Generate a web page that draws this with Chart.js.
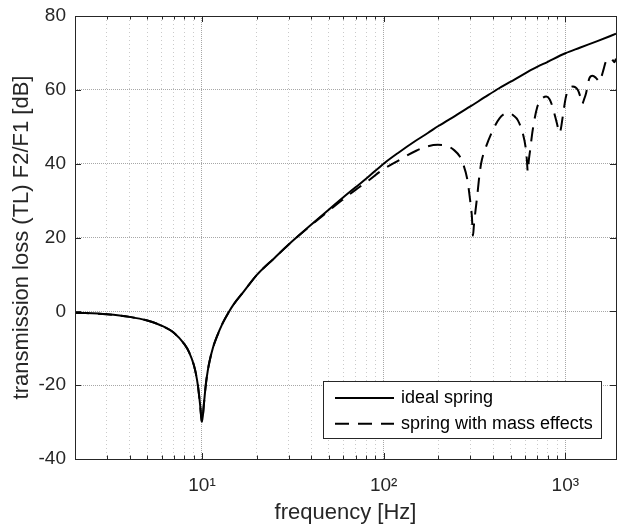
<!DOCTYPE html>
<html><head><meta charset="utf-8">
<script src="https://cdn.jsdelivr.net/npm/chart.js@4.4.1/dist/chart.umd.min.js"></script>
<style>html,body{margin:0;padding:0;background:#fff;}canvas{display:block;}</style>
</head><body>
<canvas id="c" width="617" height="526"></canvas>
<script>
// ---- data ----
const freqIdeal = [2,3,4,5,6,7,8,8.5,9,9.25,9.5,9.75,10,10.25,10.5,10.75,11,11.5,12,13,14,15,17,20,25,30,40,50,60,70,80,100,120,150,175,200,250,300,360,434,530,661,800,1000,1200,1500,1900];
const tlIdeal = [-0.35,-0.8,-1.5,-2.5,-3.9,-5.8,-8.9,-11.1,-14.4,-16.8,-20.2,-25,-30,-25,-19.8,-16.2,-13.6,-9.8,-7.2,-3.2,-0.3,2.0,5.4,9.8,14.4,18.1,23.5,27.6,30.9,33.6,35.9,40.0,42.9,46.2,48.3,50.2,53.1,55.5,58.0,60.5,62.9,65.6,67.6,69.9,71.4,73.2,75.2];
const freqMass = [2,3,4,5,6,7,8,8.5,9,9.25,9.5,9.75,10,10.25,10.5,10.75,11,11.5,12,13,14,15,17,20,25,30,40,50,60,70,84,97,122,151,175,199,221,245,262,273,289,299,306,310,314,319,327,336,344,366,399,434,470,492,520,547,583,607,615,621,628,640,661,701,740,785,820,850,899,930,945,967,1008,1050,1100,1170,1215,1240,1265,1300,1355,1410,1470,1520,1545,1570,1620,1670,1720,1780,1830,1860,1900];
const tlMass = [-0.35,-0.8,-1.5,-2.5,-3.9,-5.8,-8.9,-11.1,-14.4,-16.8,-20.2,-25,-30,-25,-19.8,-16.2,-13.6,-9.8,-7.2,-3.2,-0.3,2.0,5.4,9.8,14.4,18.1,23.4,27.3,30.4,32.9,35.7,38.1,41.0,43.5,44.7,45.1,44.9,43.6,42.0,40.1,35.6,30.2,25.6,20.5,23.5,26.6,31.1,36.5,40.1,44.6,49.1,52.3,53.6,53.7,53.0,51.8,48.2,43.7,40.5,37.8,40.5,43.7,49.1,55.4,57.5,58.2,57.4,55.4,50.9,48.3,49.5,52.7,58.2,60.3,60.9,60.0,57.8,56.2,57.3,59.1,63.1,63.8,63.3,62.5,62.2,63.1,65.4,67.6,68.0,68.6,67.9,67.5,68.4];
const seriesLabels = ['ideal spring', 'spring with mass effects'];
const xMajorTicks = [10, 100, 1000];
const xMajorLabels = ['10\u00B9', '10\u00B2', '10\u00B3'];
const yTickStep = 20;
const xRange = [2, 1900];
const yRange = [-40, 80];
const xTitle = 'frequency [Hz]';
const yTitle = 'transmission loss (TL) F2/F1 [dB]';

// ---- tick positions for the log axis (1..9 per decade) ----
const xTickValues = [];
for (const dec of [1, 10, 100, 1000]) {
  for (let m = 1; m <= 9; m++) {
    const v = m * dec;
    if (v >= xRange[0] && v <= xRange[1]) xTickValues.push(v);
  }
}
if (xTickValues[xTickValues.length - 1] !== xRange[1]) xTickValues.push(xRange[1]);

const FONT = '"Liberation Sans", Arial, Helvetica, sans-serif';
const TXT = '#262626';
const MAJOR_GRID = 'rgba(60,60,60,0.45)';
const MINOR_GRID = 'rgba(80,80,80,0.30)';

const toXY = (xs, ys) => xs.map((x, i) => ({x: x, y: ys[i]}));

const boxPlugin = {
  id: 'boxTicks',
  afterDraw(chart) {
    const {ctx, chartArea: a} = chart;
    const xs = chart.scales.x, ys = chart.scales.y;
    ctx.save();
    ctx.strokeStyle = TXT;
    ctx.lineWidth = 1;
    ctx.setLineDash([]);
    ctx.beginPath();
    xs.ticks.forEach(t => {
      if (t.value <= xRange[0] || t.value >= xRange[1]) return;
      const px = Math.round(xs.getPixelForValue(t.value)) + 0.5;
      const L = t.major ? 6 : 3.5;
      ctx.moveTo(px, a.bottom); ctx.lineTo(px, a.bottom - L);
      ctx.moveTo(px, a.top); ctx.lineTo(px, a.top + L);
    });
    ys.ticks.forEach(t => {
      const py = Math.round(ys.getPixelForValue(t.value)) + 0.5;
      ctx.moveTo(a.left, py); ctx.lineTo(a.left + 6, py);
      ctx.moveTo(a.right, py); ctx.lineTo(a.right - 6, py);
    });
    ctx.stroke();
    ctx.strokeRect(Math.round(a.left) + 0.5, Math.round(a.top) + 0.5,
      Math.round(a.right) - Math.round(a.left), Math.round(a.bottom) - Math.round(a.top));

    // legend box inside the plot, lower right
    const w = 278, h = 57;
    const x0 = Math.round(a.right - 15 - w), y0 = Math.round(a.bottom - 21 - h);
    ctx.fillStyle = '#fff';
    ctx.fillRect(x0, y0, w, h);
    ctx.strokeStyle = TXT;
    ctx.strokeRect(x0 + 0.5, y0 + 0.5, w, h);
    chart.data.datasets.forEach((ds, i) => {
      const yy = y0 + 17 + i * 25.7;
      ctx.beginPath();
      ctx.setLineDash(ds.borderDash || []);
      ctx.lineWidth = ds.borderWidth;
      ctx.strokeStyle = ds.borderColor;
      ctx.moveTo(x0 + 12, yy); ctx.lineTo(x0 + 71, yy);
      ctx.stroke();
      ctx.setLineDash([]);
      ctx.fillStyle = '#000';
      ctx.font = '18px ' + FONT;
      ctx.textBaseline = 'middle';
      ctx.textAlign = 'left';
      ctx.fillText(ds.label, x0 + 78, yy);
    });
    ctx.restore();
  }
};

new Chart(document.getElementById('c'), {
  type: 'line',
  data: {
    datasets: [
      {label: seriesLabels[0], data: toXY(freqIdeal, tlIdeal), borderColor: '#000', borderWidth: 2,
       pointRadius: 0, fill: false, cubicInterpolationMode: 'monotone'},
      {label: seriesLabels[1], data: toXY(freqMass, tlMass), borderColor: '#000', borderWidth: 2,
       borderDash: [14, 9], pointRadius: 0, fill: false, cubicInterpolationMode: 'monotone'}
    ]
  },
  options: {
    responsive: false,
    animation: false,
    devicePixelRatio: 1,
    layout: {padding: {top: 16, right: 1, left: 0, bottom: 0}},
    plugins: {legend: {display: false}, tooltip: {enabled: false}},
    scales: {
      x: {
        type: 'logarithmic',
        min: xRange[0], max: xRange[1],
        afterBuildTicks: (scale) => {
          scale.ticks = xTickValues.map(v => ({value: v, major: xMajorTicks.includes(v)}));
        },
        afterFit: (scale) => { scale.height = 67; scale.paddingLeft = 0; scale.paddingRight = 0; },
        ticks: {
          autoSkip: false, maxRotation: 0, minRotation: 0, padding: 15,
          color: TXT, font: {family: FONT, size: 19},
          callback: (value) => {
            const i = xMajorTicks.indexOf(value);
            return i >= 0 ? xMajorLabels[i] : '';
          }
        },
        grid: {
          drawTicks: false,
          lineWidth: 1,
          color: (c) => (c.tick && c.tick.major) ? MAJOR_GRID : MINOR_GRID
        },
        border: {
          display: false,
          dash: (c) => (c.tick && c.tick.major) ? [1, 1] : [1, 3]
        },
        title: {display: true, text: xTitle, color: TXT, font: {family: FONT, size: 22}, padding: {top: 0, bottom: 0}}
      },
      y: {
        type: 'linear',
        min: yRange[0], max: yRange[1],
        afterFit: (scale) => { scale.width = 75; scale.paddingTop = 0; scale.paddingBottom = 0; },
        ticks: {stepSize: yTickStep, padding: 9, color: TXT, font: {family: FONT, size: 19}},
        grid: {drawTicks: false, lineWidth: 1, color: MAJOR_GRID},
        border: {display: false, dash: [1, 1]},
        title: {display: true, text: yTitle, color: TXT, font: {family: FONT, size: 22}, padding: {top: 9, bottom: 0}}
      }
    }
  },
  plugins: [boxPlugin]
});
</script>
</body></html>
